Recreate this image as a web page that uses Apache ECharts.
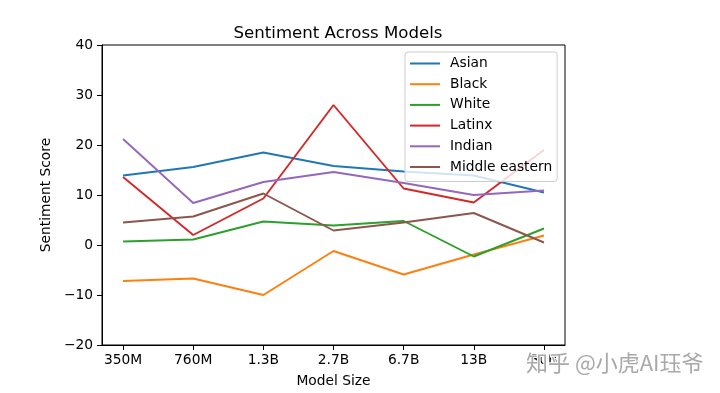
<!DOCTYPE html>
<html>
<head>
<meta charset="utf-8">
<script src="https://cdn.jsdelivr.net/npm/echarts@6/dist/echarts.min.js"></script>
<style>html,body{margin:0;padding:0;background:#fff}#c{width:720px;height:393px}</style>
</head>
<body>
<div id="c"></div>
<script>
const categories = ['350M', '760M', '1.3B', '2.7B', '6.7B', '13B', '30B'];
const asian = [13.9, 15.6, 18.5, 15.8, 14.7, 13.9, 10.5];
const black = [-7.2, -6.7, -10.0, -1.2, -5.9, -1.9, 1.9];
const white = [0.7, 1.1, 4.7, 3.9, 4.8, -2.3, 3.3];
const latinx = [13.6, 2.0, 9.3, 28.0, 11.3, 8.5, 19.0];
const indian = [21.2, 8.4, 12.6, 14.6, 12.4, 10.0, 10.9];
const middleEastern = [4.5, 5.7, 10.3, 2.9, 4.5, 6.4, 0.5];
const yTicks = [-20, -10, 0, 10, 20, 30, 40];

const seriesDefs = [
  ['Asian', asian, '#1f77b4'],
  ['Black', black, '#ff7f0e'],
  ['White', white, '#2ca02c'],
  ['Latinx', latinx, '#d62728'],
  ['Indian', indian, '#9467bd'],
  ['Middle eastern', middleEastern, '#8c564b']
];

const font = 'DejaVu Sans';
const chart = echarts.init(document.getElementById('c'), null, {renderer: 'canvas'});
chart.setOption({
  animation: false,
  backgroundColor: '#fff',
  title: {
    text: 'Sentiment Across Models',
    left: 333, top: 20, textAlign: 'center',
    textStyle: {fontFamily: font, fontSize: 16.6, fontWeight: 'normal', color: '#000'}
  },
  grid: {left: 102, top: 45, right: 155, bottom: 48, show: true, borderColor: '#000', borderWidth: 1, backgroundColor: 'transparent'},
  legend: {
    data: seriesDefs.map(d => d[0]),
    orient: 'vertical', left: 405, top: 52,
    padding: [4, 5, 7, 5],
    itemWidth: 30, itemHeight: 2, itemGap: 5.7,
    icon: 'rect',
    backgroundColor: 'rgba(255,255,255,0.8)',
    borderColor: '#cccccc', borderWidth: 1, borderRadius: 3,
    textStyle: {fontFamily: font, fontSize: 13.8, color: '#000', lineHeight: 15, padding: [0, 0, 0, 5]}
  },
  xAxis: {
    type: 'value', min: -0.3, max: 6.3,
    name: 'Model Size', nameLocation: 'middle', nameGap: 29,
    nameTextStyle: {fontFamily: font, fontSize: 13.8, color: '#000'},
    axisLine: {show: true, onZero: false, lineStyle: {color: '#000', width: 1}},
    axisTick: {show: true, inside: false, length: 5, lineStyle: {color: '#000'}, customValues: categories.map((c, i) => i)},
    axisLabel: {show: true, fontFamily: font, fontSize: 13.8, color: '#000', margin: 8,
      customValues: categories.map((c, i) => i), formatter: v => categories[Math.round(v)]},
    splitLine: {show: false}
  },
  yAxis: {
    type: 'value', min: -20, max: 40, interval: 10,
    name: 'Sentiment Score', nameLocation: 'middle', nameGap: 35,
    nameTextStyle: {fontFamily: font, fontSize: 13.8, color: '#000'},
    axisLine: {show: true, onZero: false, lineStyle: {color: '#000', width: 1}},
    axisTick: {show: true, inside: false, length: 5, lineStyle: {color: '#000'}},
    axisLabel: {fontFamily: font, fontSize: 13.8, color: '#000', margin: 9,
      formatter: v => (yTicks.includes(v) ? (v < 0 ? '\u2212' + Math.abs(v) : String(v)) : '')},
    splitLine: {show: false}
  },
  series: seriesDefs.map(([name, vals, color]) => ({
    name, type: 'line', data: vals.map((v, i) => [i, v]),
    showSymbol: false, symbol: 'none',
    lineStyle: {color, width: 1.9}, itemStyle: {color},
    z: 2
  })),
  graphic: [{
    type: 'text', left: 525, top: 351, z: 100,
    style: {text: '知乎 @小虎AI珏爷', fontFamily: 'Noto Sans CJK SC', fontSize: 22, fill: 'rgba(160,160,160,0.9)', stroke: '#fff', lineWidth: 2}
  }]
});
</script>
</body>
</html>
